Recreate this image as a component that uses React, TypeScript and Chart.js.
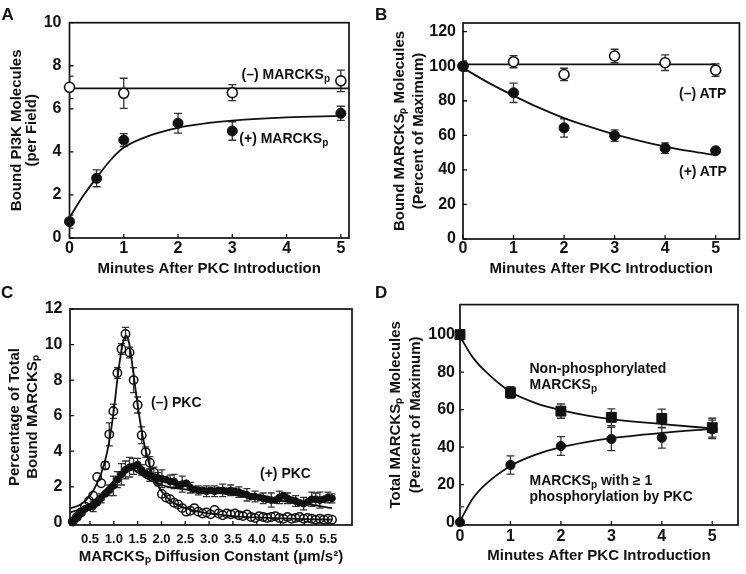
import React, { useEffect, useRef } from 'react';
import { Chart, registerables } from 'chart.js';

Chart.register(...registerables);

const FONT = "'Liberation Sans', Arial, Helvetica, sans-serif";
const INK = '#111';

// ---------------- Panel A ----------------
const aXTicks = [0, 1, 2, 3, 4, 5];
const aXLabels = ['0', '1', '2', '3', '4', '5'];
const aYTicks = [0, 2, 4, 6, 8, 10];
const aYLabels = ['0', '2', '4', '6', '8', '10'];
const aMinusX = [0, 1, 3, 5];
const aMinusY = [7.0, 6.72, 6.75, 7.3];
const aMinusErr = [0.52, 0.7, 0.37, 0.5];
const aMinusFitX = [0, 5.15];
const aMinusFitY = [6.95, 6.95];
const aPlusX = [0, 0.5, 1, 2, 3, 5];
const aPlusY = [0.76, 2.77, 4.55, 5.33, 4.97, 5.79];
const aPlusErr = [0.3, 0.39, 0.3, 0.46, 0.43, 0.33];
const aPlusFitX = [0, 0.25, 0.5, 0.75, 1, 1.5, 2, 2.5, 3, 4, 5];
const aPlusFitY = [0.95, 1.95, 2.8, 3.6, 4.2, 4.78, 5.12, 5.32, 5.45, 5.6, 5.67];

// ---------------- Panel B ----------------
const bXTicks = [0, 1, 2, 3, 4, 5];
const bXLabels = ['0', '1', '2', '3', '4', '5'];
const bYTicks = [0, 20, 40, 60, 80, 100, 120];
const bYLabels = ['0', '20', '40', '60', '80', '100', '120'];
const bX = [0, 1, 2, 3, 4, 5];
const bMinusY = [100, 102.6, 95.2, 105.9, 102, 97.7];
const bMinusErr = [3, 3.5, 3.6, 3.9, 4.5, 3.6];
const bMinusFitX = [0, 5];
const bMinusFitY = [101, 101];
const bPlusY = [100, 84.6, 64.3, 59.8, 52.6, 51.1];
const bPlusErr = [2, 5.6, 5.3, 3.3, 3, 0];
const bPlusFitX = [0, 0.5, 1, 1.5, 2, 2.5, 3, 3.5, 4, 4.5, 5];
const bPlusFitY = [99, 90.5, 83, 76, 70, 65, 60.5, 56.8, 53.5, 50.8, 48.5];

// ---------------- Panel C ----------------
const cXTicks = [0.5, 1.0, 1.5, 2.0, 2.5, 3.0, 3.5, 4.0, 4.5, 5.0, 5.5];
const cXLabels = ['0.5', '1.0', '1.5', '2.0', '2.5', '3.0', '3.5', '4.0', '4.5', '5.0', '5.5'];
const cYTicks = [0, 2, 4, 6, 8, 10, 12];
const cYLabels = ['0', '2', '4', '6', '8', '10', '12'];
const cX = [
  0.14, 0.225, 0.31, 0.395, 0.48, 0.565, 0.65, 0.735, 0.82, 0.905,
  0.99, 1.075, 1.16, 1.245, 1.33, 1.415, 1.5, 1.585, 1.67, 1.755,
  1.84, 1.925, 2.01, 2.095, 2.18, 2.265, 2.35, 2.435, 2.52, 2.605,
  2.69, 2.775, 2.86, 2.945, 3.03, 3.115, 3.2, 3.285, 3.37, 3.455,
  3.54, 3.625, 3.71, 3.795, 3.88, 3.965, 4.05, 4.135, 4.22, 4.305,
  4.39, 4.475, 4.56, 4.645, 4.73, 4.815, 4.9, 4.985, 5.07, 5.155,
  5.24, 5.325, 5.41, 5.495, 5.58,
];
const cMinusY = [
  0.05, 0.3, 0.55, 0.9, 1.2, 1.5, 2.55, 2.2, 3.2, 4.95,
  6.25, 8.4, 9.75, 10.6, 9.55, 8.0, 6.6, 4.9, 3.95, 3.35,
  2.8, 2.3, 1.6, 1.4, 1.3, 1.1, 1.0, 0.8, 0.6, 0.65,
  0.8, 0.6, 0.5, 0.55, 0.45, 0.7, 0.5, 0.4, 0.5, 0.45,
  0.5, 0.4, 0.35, 0.45, 0.3, 0.25, 0.35, 0.3, 0.25, 0.3,
  0.35, 0.25, 0.2, 0.3, 0.2, 0.25, 0.3, 0.2, 0.25, 0.2,
  0.15, 0.2, 0.15, 0.2, 0.15,
];
const cMinusErr = [
  0, 0, 0, 0, 0, 0, 0, 0, 0.2, 0.65,
  0.4, 0.3, 0.3, 0.37, 0.3, 0.7, 0.45, 0.47, 0.3, 0.35,
  0.3, 0.25, 0, 0, 0, 0, 0, 0, 0, 0,
  0, 0, 0, 0, 0, 0, 0, 0, 0, 0,
  0, 0, 0, 0, 0, 0, 0, 0, 0, 0,
  0, 0, 0, 0, 0, 0, 0, 0, 0, 0,
  0, 0, 0, 0, 0,
];
const cPlusY = [
  0.05, 0.3, 0.55, 0.75, 0.85, 0.9, 1.1, 1.35, 1.6, 1.8,
  2.05, 2.4, 2.7, 2.95, 3.1, 3.15, 3.25, 2.95, 2.75, 2.65,
  2.55, 2.5, 2.45, 2.4, 2.3, 2.3, 2.1, 2.15, 2.2, 1.95,
  1.85, 1.8, 1.8, 1.75, 1.8, 1.75, 1.8, 1.8, 1.75, 1.8,
  1.75, 1.7, 1.6, 1.55, 1.45, 1.45, 1.4, 1.35, 1.3, 1.25,
  1.25, 1.4, 1.5, 1.35, 1.25, 1.2, 1.1, 1.05, 1.15, 1.3,
  1.3, 1.25, 1.3, 1.4, 1.35,
];
const cPlusErr = [
  0, 0, 0, 0, 0, 0.3, 0, 0.25, 0, 0.3,
  0.55, 0.45, 0.6, 0.5, 0.55, 0.45, 0.35, 0.3, 0, 0.35,
  0, 0.3, 0.5, 0, 0.35, 0.4, 0, 0.45, 0, 0.3,
  0, 0.25, 0, 0.3, 0, 0.3, 0, 0.35, 0, 0.3,
  0, 0.3, 0, 0.35, 0, 0.3, 0, 0.3, 0, 0.4,
  0, 0.35, 0, 0.3, 0, 0.3, 0, 0.35, 0, 0.4,
  0.35, 0.45, 0, 0.3, 0.25,
];
const cMinusFitX = [0.08, 0.3, 0.5, 0.65, 0.8, 0.9, 1.0, 1.1, 1.2, 1.26, 1.32, 1.4, 1.5, 1.6, 1.7, 1.8, 1.9, 2.0, 2.2, 2.5, 3.0, 3.5, 4.0, 4.5, 5.0, 5.58];
const cMinusFitY = [0.78, 1.0, 1.5, 2.2, 3.3, 4.5, 6.3, 8.6, 10.2, 10.5, 10.1, 8.6, 6.6, 4.9, 3.7, 2.8, 2.2, 1.75, 1.2, 0.8, 0.5, 0.35, 0.28, 0.22, 0.18, 0.15];
const cPlusFitX = [0.08, 0.3, 0.5, 0.7, 0.9, 1.1, 1.3, 1.4, 1.5, 1.7, 2.0, 2.5, 3.0, 3.5, 4.0, 4.5, 5.0, 5.58];
const cPlusFitY = [0.55, 0.75, 1.05, 1.5, 2.05, 2.6, 2.95, 2.95, 2.8, 2.45, 2.1, 1.85, 1.7, 1.55, 1.35, 1.2, 1.05, 0.8];

// ---------------- Panel D ----------------
const dXTicks = [0, 1, 2, 3, 4, 5];
const dXLabels = ['0', '1', '2', '3', '4', '5'];
const dYTicks = [0, 20, 40, 60, 80, 100];
const dYLabels = ['0', '20', '40', '60', '80', '100'];
const dX = [0, 1, 2, 3, 4, 5];
const dNonY = [100, 69.1, 59.2, 55.9, 55.3, 50.4];
const dNonErr = [2.7, 3.1, 3.8, 4.5, 5, 5];
const dPhosY = [0, 30.5, 40.6, 44.3, 45, 49.5];
const dPhosErr = [8.2, 4.9, 5, 6.2, 5.5, 4.9];
const dNonFitX = [0, 0.25, 0.5, 1, 1.5, 2, 2.5, 3, 4, 5];
const dNonFitY = [99, 88, 80.5, 69.5, 63.5, 59.8, 57, 55, 52.3, 50];
const dPhosFitX = [0, 0.25, 0.5, 1, 1.5, 2, 2.5, 3, 4, 5];
const dPhosFitY = [0.5, 12.5, 20, 30, 36, 40, 42.7, 44.8, 47.6, 49.8];

// ---------------- helpers ----------------
const pts = (xs: number[], ys: number[]) => xs.map((x, i) => ({ x, y: ys[i] }));

function markers(
  xs: number[],
  ys: number[],
  errs: number[],
  o: { style?: string; r: number; bw: number; fill: string; cap: number }
) {
  return {
    type: 'scatter',
    data: pts(xs, ys),
    errors: errs,
    errCap: o.cap,
    showLine: false,
    pointStyle: o.style || 'circle',
    pointRadius: o.r,
    pointBorderWidth: o.bw,
    pointBorderColor: INK,
    pointBackgroundColor: o.fill,
    clip: false,
    order: 0,
  };
}

function fitLine(xs: number[], ys: number[]) {
  return {
    type: 'line',
    data: pts(xs, ys),
    showLine: true,
    pointRadius: 0,
    borderColor: INK,
    borderWidth: 1.8,
    cubicInterpolationMode: 'monotone',
    fill: false,
    order: 5,
  };
}

const framePlugin = {
  id: 'frameTicks',
  beforeDatasetsDraw(chart: any) {
    const { ctx, chartArea: a, scales } = chart;
    ctx.save();
    ctx.strokeStyle = INK;
    ctx.lineWidth = 1.7;
    ctx.strokeRect(a.left, a.top, a.right - a.left, a.bottom - a.top);
    ctx.lineWidth = 1.3;
    ctx.beginPath();
    scales.x.ticks.forEach((t: any) => {
      const px = scales.x.getPixelForValue(t.value);
      ctx.moveTo(px, a.bottom);
      ctx.lineTo(px, a.bottom - 4);
    });
    scales.y.ticks.forEach((t: any) => {
      const py = scales.y.getPixelForValue(t.value);
      ctx.moveTo(a.left, py);
      ctx.lineTo(a.left + 4, py);
    });
    ctx.stroke();
    ctx.restore();
  },
};

const errorBarPlugin = {
  id: 'errorBars',
  beforeDatasetsDraw(chart: any) {
    const { ctx, chartArea: a } = chart;
    ctx.save();
    ctx.beginPath();
    ctx.rect(a.left, a.top - 3, a.right - a.left, a.bottom - a.top + 3);
    ctx.clip();
    ctx.strokeStyle = '#333';
    ctx.lineWidth = 1.3;
    chart.data.datasets.forEach((ds: any, i: number) => {
      if (!ds.errors) return;
      const meta = chart.getDatasetMeta(i);
      const ys = chart.scales[meta.yAxisID];
      meta.data.forEach((el: any, j: number) => {
        const e = ds.errors[j];
        if (!e) return;
        const v = ds.data[j].y;
        const x = el.x;
        const y1 = ys.getPixelForValue(v + e);
        const y2 = ys.getPixelForValue(v - e);
        const c = ds.errCap;
        ctx.beginPath();
        ctx.moveTo(x, y1);
        ctx.lineTo(x, y2);
        ctx.moveTo(x - c, y1);
        ctx.lineTo(x + c, y1);
        ctx.moveTo(x - c, y2);
        ctx.lineTo(x + c, y2);
        ctx.stroke();
      });
    });
    ctx.restore();
  },
};

type AxisSpec = {
  min: number;
  max: number;
  ticks: number[];
  labels: string[];
  size: number;
  fontSize: number;
  pad: number;
  title: string | string[];
  titleLH: string;
  titlePad: { top: number; bottom: number };
};

function axis(s: AxisSpec, horizontal: boolean) {
  return {
    type: 'linear',
    min: s.min,
    max: s.max,
    afterBuildTicks: (sc: any) => {
      sc.ticks = s.ticks.map((v) => ({ value: v }));
    },
    afterFit: (sc: any) => {
      if (horizontal) sc.height = s.size;
      else sc.width = s.size;
    },
    grid: { display: false, drawTicks: false },
    border: { display: false },
    ticks: {
      autoSkip: false,
      maxRotation: 0,
      minRotation: 0,
      padding: s.pad,
      color: INK,
      font: { family: FONT, size: s.fontSize, weight: 'bold' },
      callback: (_v: any, i: number) => s.labels[i],
    },
    title: {
      display: true,
      text: s.title,
      color: INK,
      font: { family: FONT, size: 15, weight: 'bold', lineHeight: s.titleLH },
      padding: s.titlePad,
    },
  };
}

function config(datasets: any[], x: AxisSpec, y: AxisSpec, padding: any) {
  return {
    type: 'scatter',
    data: { datasets },
    options: {
      animation: false,
      responsive: false,
      devicePixelRatio: 1,
      events: [],
      layout: { padding },
      plugins: { legend: { display: false }, tooltip: { enabled: false } },
      scales: { x: axis(x, true), y: axis(y, false) },
    },
    plugins: [framePlugin, errorBarPlugin],
  };
}

function ChartBox(p: { left: number; top: number; width: number; height: number; make: () => any }) {
  const ref = useRef<HTMLCanvasElement>(null);
  useEffect(() => {
    const chart = new Chart(ref.current as HTMLCanvasElement, p.make());
    return () => chart.destroy();
  }, []);
  return (
    <canvas
      ref={ref}
      width={p.width}
      height={p.height}
      style={{ position: 'absolute', left: p.left, top: p.top, width: p.width, height: p.height }}
    />
  );
}

// Among datasets with equal order, the earlier one in the list is painted on top.
const makeA = () =>
  config(
    [
      fitLine(aMinusFitX, aMinusFitY),
      fitLine(aPlusFitX, aPlusFitY),
      markers(aMinusX, aMinusY, aMinusErr, { r: 5, bw: 1.6, fill: '#fff', cap: 4 }),
      markers(aPlusX, aPlusY, aPlusErr, { r: 5, bw: 1, fill: INK, cap: 4 }),
    ],
    { min: 0, max: 5.15, ticks: aXTicks, labels: aXLabels, size: 52, fontSize: 16, pad: 1, title: 'Minutes After PKC Introduction', titleLH: '18px', titlePad: { top: 0, bottom: 12 } },
    { min: 0, max: 10, ticks: aYTicks, labels: aYLabels, size: 69.5, fontSize: 16, pad: 8, title: ['Bound PI3K Molecules', '(per Field)'], titleLH: '15px', titlePad: { top: 9.5, bottom: 0 } },
    { left: 0, top: 22.7, right: 24, bottom: 0 }
  );

const makeB = () =>
  config(
    [
      fitLine(bMinusFitX, bMinusFitY),
      fitLine(bPlusFitX, bPlusFitY),
      markers(bX, bPlusY, bPlusErr, { r: 5, bw: 1, fill: INK, cap: 4 }),
      markers(bX, bMinusY, bMinusErr, { r: 5, bw: 1.6, fill: '#fff', cap: 4 }),
    ],
    { min: 0, max: 5.47, ticks: bXTicks, labels: bXLabels, size: 51, fontSize: 16, pad: 0, title: 'Minutes After PKC Introduction', titleLH: '18px', titlePad: { top: 0, bottom: 12 } },
    { min: 0, max: 125, ticks: bYTicks, labels: bYLabels, size: 90, fontSize: 16, pad: 7, title: ['Bound MARCKSₚ Molecules', '(Percent of Maximum)'], titleLH: '19px', titlePad: { top: 17.5, bottom: 0 } },
    { left: 0, top: 23, right: 2, bottom: 0 }
  );

const makeC = () =>
  config(
    [
      fitLine(cMinusFitX, cMinusFitY),
      fitLine(cPlusFitX, cPlusFitY),
      markers(cX, cMinusY, cMinusErr, { r: 4.2, bw: 1.5, fill: 'rgba(255,255,255,0)', cap: 3.5 }),
      markers(cX, cPlusY, cPlusErr, { r: 3.4, bw: 1, fill: INK, cap: 3.5 }),
    ],
    { min: 0.08, max: 6.0, ticks: cXTicks, labels: cXLabels, size: 49, fontSize: 13, pad: 7, title: 'MARCKSₚ Diffusion Constant (μm/s²)', titleLH: '18px', titlePad: { top: 0, bottom: 8 } },
    { min: -0.15, max: 12, ticks: cYTicks, labels: cYLabels, size: 70, fontSize: 16, pad: 7.5, title: ['Percentage of Total', 'Bound MARCKSₚ'], titleLH: '17.5px', titlePad: { top: 6.25, bottom: 0 } },
    { left: 0, top: 19, right: 21, bottom: 0 }
  );

const makeD = () =>
  config(
    [
      fitLine(dNonFitX, dNonFitY),
      fitLine(dPhosFitX, dPhosFitY),
      markers(dX, dNonY, dNonErr, { style: 'rect', r: 7, bw: 1, fill: INK, cap: 4 }),
      markers(dX, dPhosY, dPhosErr, { r: 4.6, bw: 1, fill: INK, cap: 4 }),
    ],
    { min: 0, max: 5.51, ticks: dXTicks, labels: dXLabels, size: 49, fontSize: 16, pad: 2, title: 'Minutes After PKC Introduction', titleLH: '18px', titlePad: { top: 0, bottom: 9.5 } },
    { min: -1.5, max: 116, ticks: dYTicks, labels: dYLabels, size: 87, fontSize: 16, pad: 5, title: ['Total MARCKSₚ Molecules', '(Percent of Maximum)'], titleLH: '20px', titlePad: { top: 12.5, bottom: 0 } },
    { left: 0, top: 14, right: 4, bottom: 0 }
  );

const subStyle: React.CSSProperties = { fontSize: '10px', verticalAlign: '-3px', lineHeight: 0 };

function Txt(p: { left: number; top: number; children: React.ReactNode; size?: number; lh?: number }) {
  return (
    <div
      style={{
        position: 'absolute',
        left: p.left,
        top: p.top,
        fontFamily: FONT,
        fontWeight: 'bold',
        fontSize: p.size || 14,
        lineHeight: (p.lh || 16) + 'px',
        whiteSpace: 'nowrap',
        color: INK,
      }}
    >
      {p.children}
    </div>
  );
}

export default function App() {
  return (
    <div style={{ position: 'fixed', left: 0, top: 0, width: 746, height: 574, background: '#fff', overflow: 'hidden' }}>
      <ChartBox left={0} top={0} width={373} height={290} make={makeA} />
      <ChartBox left={373} top={0} width={373} height={290} make={makeB} />
      <ChartBox left={0} top={290} width={373} height={284} make={makeC} />
      <ChartBox left={373} top={290} width={373} height={284} make={makeD} />

      <Txt left={1.5} top={4.6} size={17} lh={20}>A</Txt>
      <Txt left={375} top={4.6} size={17} lh={20}>B</Txt>
      <Txt left={1} top={282.5} size={17} lh={20}>C</Txt>
      <Txt left={375} top={282.5} size={17} lh={20}>D</Txt>

      <Txt left={241.5} top={66}>(–) MARCKS<sub style={subStyle}>p</sub></Txt>
      <Txt left={239.3} top={130}>(+) MARCKS<sub style={subStyle}>p</sub></Txt>

      <Txt left={679} top={85}>(–) ATP</Txt>
      <Txt left={679} top={162.7}>(+) ATP</Txt>

      <Txt left={151} top={393.7}>(–) PKC</Txt>
      <Txt left={260} top={465}>(+) PKC</Txt>

      <Txt left={529.5} top={360}>Non-phosphorylated</Txt>
      <Txt left={529.5} top={375.5}>MARCKS<sub style={subStyle}>p</sub></Txt>
      <Txt left={529.5} top={471.5}>MARCKS<sub style={subStyle}>p</sub> with ≥ 1</Txt>
      <Txt left={529.5} top={488}>phosphorylation by PKC</Txt>
    </div>
  );
}
